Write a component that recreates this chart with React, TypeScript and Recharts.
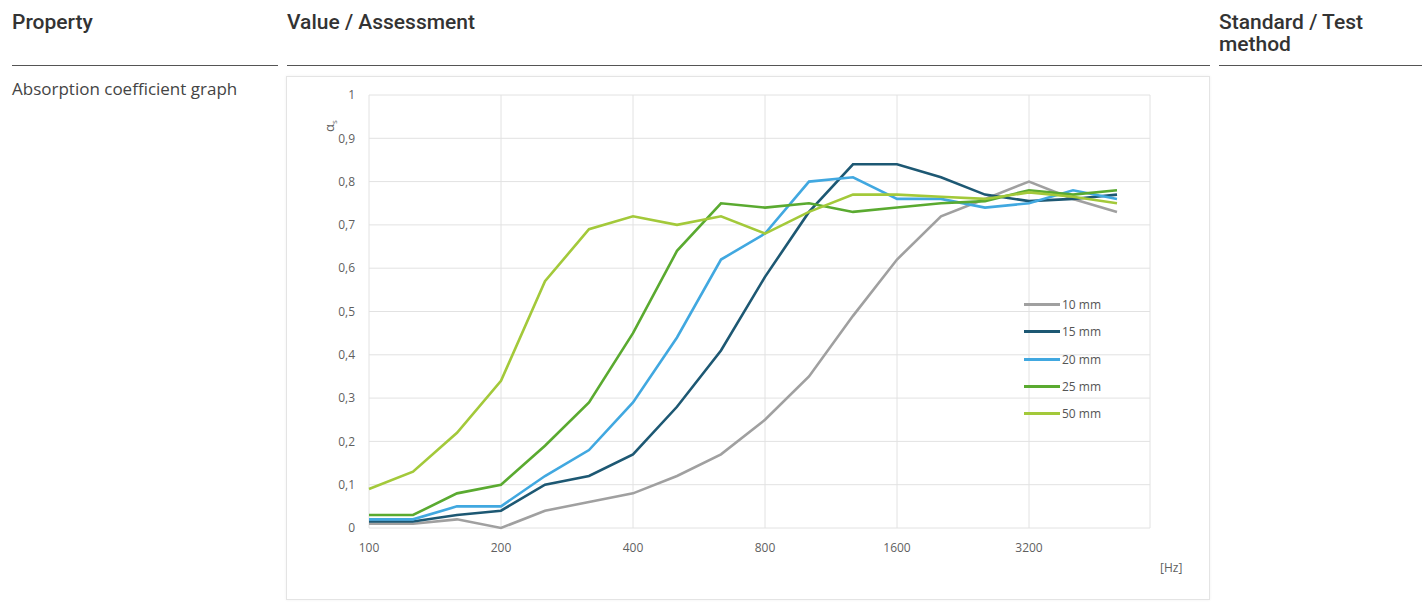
import React from 'react';
import { LineChart, Line, XAxis, YAxis, CartesianGrid } from 'recharts';

const FREQS = ['100', '125', '160', '200', '250', '315', '400', '500', '630', '800', '1000', '1250', '1600', '2000', '2500', '3150', '4000', '5000'];
const TICK_LABELS = ['100', '200', '400', '800', '1600', '3200'];
const Y_TICKS = [0, 0.1, 0.2, 0.3, 0.4, 0.5, 0.6, 0.7, 0.8, 0.9, 1];

const MM10 = [0.01, 0.01, 0.02, 0.0, 0.04, 0.06, 0.08, 0.12, 0.17, 0.25, 0.35, 0.49, 0.62, 0.72, 0.76, 0.8, 0.76, 0.73];
const MM15 = [0.015, 0.015, 0.03, 0.04, 0.1, 0.12, 0.17, 0.28, 0.41, 0.58, 0.73, 0.84, 0.84, 0.81, 0.77, 0.755, 0.76, 0.77];
const MM20 = [0.02, 0.02, 0.05, 0.05, 0.12, 0.18, 0.29, 0.44, 0.62, 0.68, 0.8, 0.81, 0.76, 0.76, 0.74, 0.75, 0.78, 0.76];
const MM25 = [0.03, 0.03, 0.08, 0.1, 0.19, 0.29, 0.45, 0.64, 0.75, 0.74, 0.75, 0.73, 0.74, 0.75, 0.755, 0.78, 0.77, 0.78];
const MM50 = [0.09, 0.13, 0.22, 0.34, 0.57, 0.69, 0.72, 0.7, 0.72, 0.68, 0.73, 0.77, 0.77, 0.765, 0.76, 0.775, 0.765, 0.75];

const SERIES = [
  { key: 'mm10', name: '10 mm', color: '#a0a0a0', values: MM10 },
  { key: 'mm15', name: '15 mm', color: '#1d5873', values: MM15 },
  { key: 'mm20', name: '20 mm', color: '#41a8e0', values: MM20 },
  { key: 'mm25', name: '25 mm', color: '#5aaa30', values: MM25 },
  { key: 'mm50', name: '50 mm', color: '#a3c93a', values: MM50 },
];

const data = FREQS.map((f, i) => {
  const row: Record<string, number | string> = { i, f };
  SERIES.forEach(s => { row[s.key] = s.values[i]; });
  return row;
});

const xTicks = TICK_LABELS.map((_, k) => k * 3);

const FONT = '"Open Sans", sans-serif';
const tickStyle = { fill: '#5f5f5f', fontSize: 12, fontFamily: FONT };
const headStyle: React.CSSProperties = {
  position: 'absolute', top: 12, fontFamily: 'Roboto, sans-serif', fontWeight: 500,
  fontSize: 21, color: '#333', lineHeight: '21px', whiteSpace: 'nowrap',
};
const ruleStyle: React.CSSProperties = { position: 'absolute', top: 65, height: 1, background: '#555' };

const LegendBox = () => (
  <div style={{ position: 'absolute', left: 738, top: 215, fontFamily: FONT, fontSize: 12, color: '#555' }}>
    {SERIES.map(s => (
      <div key={s.key} style={{ display: 'flex', alignItems: 'center', height: 27.3 }}>
        <span style={{ width: 36, height: 3, background: s.color, marginRight: 2 }} />
        {s.name}
      </div>
    ))}
  </div>
);

const AlphaLabel = () => (
  <text x={0} y={0} transform="translate(48,50) rotate(-90)" fill="#5f5f5f"
    fontSize={13} fontFamily={FONT} textAnchor="middle">
    α<tspan fontSize={8} dy={3}>s</tspan>
  </text>
);

export default function App() {
  return (
    <div style={{ position: 'fixed', left: 0, top: 0, width: 1422, height: 603, background: '#fff' }}>
      <div style={{ ...headStyle, left: 12 }}>Property</div>
      <div style={{ ...headStyle, left: 287 }}>Value / Assessment</div>
      <div style={{ ...headStyle, left: 1219 }}>Standard / Test</div>
      <div style={{ ...headStyle, left: 1219, top: 34 }}>method</div>
      <div style={{ ...ruleStyle, left: 12, width: 266 }} />
      <div style={{ ...ruleStyle, left: 287, width: 923 }} />
      <div style={{ ...ruleStyle, left: 1219, width: 203 }} />
      <div style={{
        position: 'absolute', left: 12, top: 78, fontFamily: FONT,
        fontSize: 17, color: '#444', lineHeight: '22px',
      }}>
        Absorption coefficient graph
      </div>

      <div style={{
        position: 'absolute', left: 286, top: 76, width: 922, height: 522,
        border: '1px solid #e4e4e4', boxShadow: '0 0 3px rgba(0,0,0,0.06)',
      }}>
        <div style={{ position: 'absolute', left: -1, top: -1 }}>
          <LineChart width={924} height={524} data={data} margin={{ top: 19, right: 60, bottom: 42, left: 43 }}>
            <CartesianGrid stroke="#e2e2e2" strokeWidth={1} />
            <XAxis
              type="number" dataKey="i" domain={[0, 17.75]} ticks={xTicks}
              tickFormatter={(v: number) => TICK_LABELS[Math.round(v / 3)]}
              axisLine={false} tickLine={false} tick={tickStyle} tickMargin={9} interval={0}
            />
            <YAxis
              domain={[0, 1]} ticks={Y_TICKS} width={40} interval={0}
              tickFormatter={(v: number) => String(v).replace('.', ',')}
              axisLine={false} tickLine={false} tick={tickStyle} tickMargin={8}
            />
            {SERIES.map(s => (
              <Line key={s.key} dataKey={s.key} name={s.name} stroke={s.color} strokeWidth={2.6}
                dot={false} activeDot={false} isAnimationActive={false} type="linear" />
            ))}
            <AlphaLabel />
          </LineChart>
          <LegendBox />
        </div>
        <div style={{
          position: 'absolute', left: 873, top: 482, fontFamily: FONT,
          fontSize: 12, color: '#5f5f5f',
        }}>
          [Hz]
        </div>
      </div>
    </div>
  );
}
